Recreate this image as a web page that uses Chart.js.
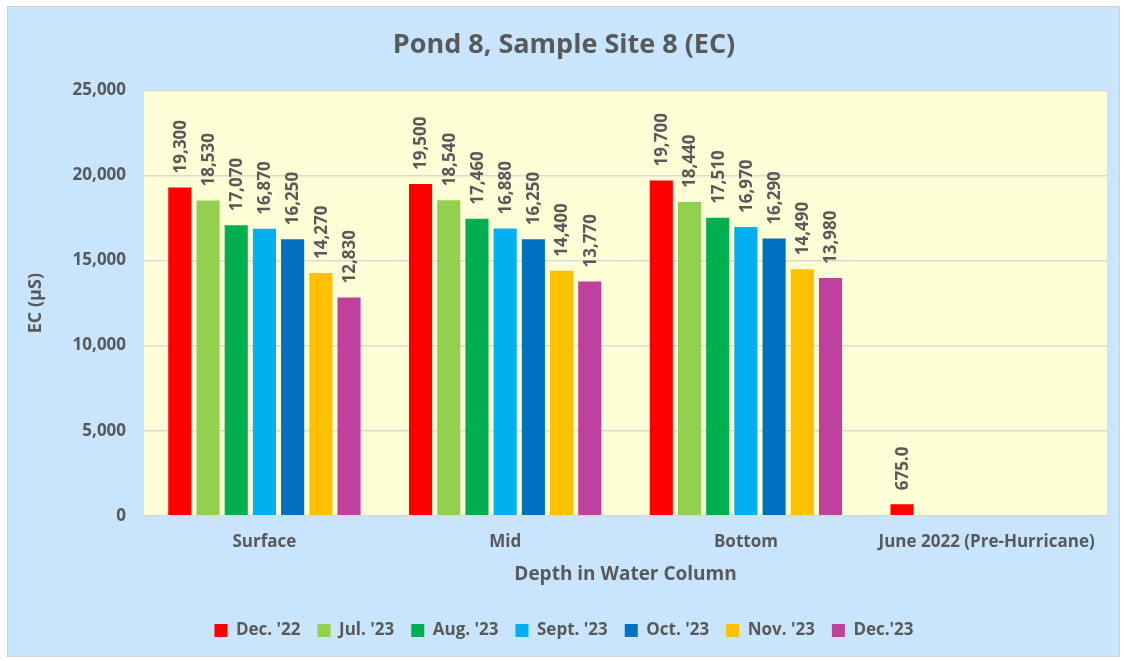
<!DOCTYPE html>
<html>
<head>
<meta charset="utf-8">
<script src="https://cdn.jsdelivr.net/npm/chart.js@4.4.0/dist/chart.umd.min.js"></script>
<style>
  body { margin: 0; background: #fff; }
  #box { position: absolute; left: 7px; top: 6px; width: 1111px; height: 649px;
         background: #c9e5fd; border: 1px solid #d0d0d0; }
</style>
</head>
<body>
<div id="box"><canvas id="myChart" width="1111" height="649"></canvas></div>
<script>
// categories along the x axis
var depths = ["Surface", "Mid", "Bottom", "June 2022 (Pre-Hurricane)"];
// one array per sampling month
var months = ["Dec. '22", "Jul. '23", "Aug. '23", "Sept. '23", "Oct. '23", "Nov. '23", "Dec.'23"];
var dec22 = [19300, 19500, 19700, 675];
var jul23 = [18530, 18540, 18440, null];
var aug23 = [17070, 17460, 17510, null];
var sep23 = [16870, 16880, 16970, null];
var oct23 = [16250, 16250, 16290, null];
var nov23 = [14270, 14400, 14490, null];
var dec23 = [12830, 13770, 13980, null];
var colors = ["#ff0000", "#92d050", "#00b050", "#00b0f0", "#0070c0", "#ffc000", "#c0409e"];

var series = [dec22, jul23, aug23, sep23, oct23, nov23, dec23];
var gray = "#595959";
var fam = "'Open Sans', sans-serif";

var sets = [];
for (var i = 0; i < series.length; i++) {
  sets.push({
    label: months[i],
    data: series[i],
    backgroundColor: colors[i],
    categoryPercentage: 0.82,
    barPercentage: 0.82
  });
}

// yellow plot area
var plotBg = {
  id: "plotBg",
  beforeDraw: function(chart) {
    var a = chart.chartArea, c = chart.ctx;
    c.save();
    c.fillStyle = "#ffffd7";
    c.fillRect(a.left, a.top, a.right - a.left, a.bottom - a.top);
    c.restore();
  }
};

// rotated value labels over each bar
var barLabels = {
  id: "barLabels",
  afterDatasetsDraw: function(chart) {
    var c = chart.ctx;
    c.save();
    c.font = "bold 17px " + fam;
    c.fillStyle = gray;
    c.textAlign = "left";
    c.textBaseline = "middle";
    chart.data.datasets.forEach(function(ds, di) {
      var meta = chart.getDatasetMeta(di);
      meta.data.forEach(function(bar, j) {
        var v = ds.data[j];
        if (v == null) return;
        var txt = v < 1000 ? v.toFixed(1) : v.toLocaleString("en-US");
        c.save();
        c.translate(bar.x + 1, bar.y - 14);
        c.rotate(-Math.PI / 2);
        c.fillText(txt, 0, 0);
        c.restore();
      });
    });
    c.restore();
  }
};

var ctx = document.getElementById("myChart").getContext("2d");
var myChart = new Chart(ctx, {
  type: "bar",
  data: { labels: depths, datasets: sets },
  plugins: [plotBg, barLabels],
  options: {
    responsive: false,
    animation: false,
    layout: { padding: { left: 13, right: 12, top: 8, bottom: 7 } },
    plugins: {
      title: {
        display: true,
        text: "Pond 8, Sample Site 8 (EC)",
        color: gray,
        font: { family: fam, size: 27, weight: "bold" },
        padding: { top: 14, bottom: 29 }
      },
      legend: {
        position: "bottom",
        labels: {
          color: gray,
          boxWidth: 13,
          boxHeight: 13,
          padding: 17,
          font: { family: fam, size: 17, weight: "bold" }
        }
      },
      tooltip: { enabled: false }
    },
    scales: {
      x: {
        grid: { display: false },
        border: { color: "#d9d9d9" },
        ticks: { color: gray, font: { family: fam, size: 17, weight: "bold" }, padding: 8 },
        title: {
          display: true,
          text: "Depth in Water Column",
          color: gray,
          font: { family: fam, size: 19, weight: "bold" },
          padding: { top: 3, bottom: 19 }
        }
      },
      y: {
        min: 0,
        max: 25000,
        ticks: {
          stepSize: 5000,
          color: gray,
          padding: 18,
          font: { family: fam, size: 17, weight: "bold" },
          callback: function(v) { return v.toLocaleString("en-US"); }
        },
        grid: { color: "#d9d9d9", lineWidth: 1.5, drawTicks: false },
        border: { display: false },
        title: {
          display: true,
          text: "EC (µS)",
          color: gray,
          font: { family: fam, size: 18, weight: "bold" },
          padding: { bottom: 8 }
        }
      }
    }
  }
});
</script>
</body>
</html>
